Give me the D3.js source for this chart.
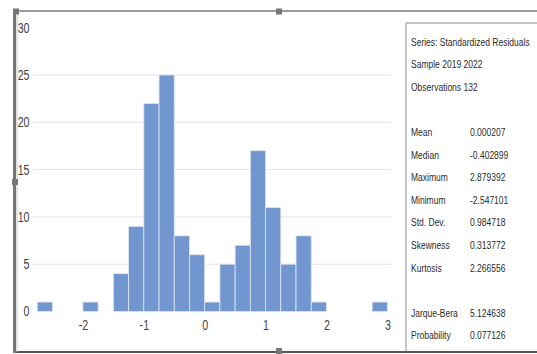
<!DOCTYPE html>
<html>
<head>
<meta charset="utf-8">
<script src="https://cdn.jsdelivr.net/npm/d3@7"></script>
<style>
  body { margin: 0; background: #fff; }
  svg { display: block; }
  text { font-family: "Liberation Sans", Arial, sans-serif; }
</style>
</head>
<body>
<div class="canvas"></div>
<script>
// histogram of standardized residuals, bins of 0.25
const binLow = [-2.75, -2.5, -2.25, -2.0, -1.75, -1.5, -1.25, -1.0, -0.75, -0.5, -0.25,
  0.0, 0.25, 0.5, 0.75, 1.0, 1.25, 1.5, 1.75, 2.0, 2.25, 2.5, 2.75];
const counts = [1, 0, 0, 1, 0, 4, 9, 22, 25, 8, 6, 1, 5, 7, 17, 11, 5, 8, 1, 0, 0, 0, 1];
const binWidth = 0.25;

const xTicks = [-2, -1, 0, 1, 2, 3];
const yTicks = [0, 5, 10, 15, 20, 25, 30];
const gridTicks = [5, 10, 15, 20, 25];

const statsHeader = ['Series: Standardized Residuals', 'Sample 2019 2022', 'Observations 132'];
const statNames = ['Mean', 'Median', 'Maximum', 'Minimum', 'Std. Dev.', 'Skewness', 'Kurtosis'];
const statValues = ['0.000207', '-0.402899', '2.879392', '-2.547101', '0.984718', '0.313772', '2.266556'];
const testNames = ['Jarque-Bera', 'Probability'];
const testValues = ['5.124638', '0.077126'];

const W = 537, H = 354;
const plot = { left: 33, right: 391, top: 27.7, bottom: 311.5 };
// no narrow font installed, so texts are squeezed sideways
const tickSqueeze = 0.76;
const statSqueeze = 0.74;

const svg = d3.select('.canvas').append('svg')
  .attr('width', W)
  .attr('height', H);

const x = d3.scaleLinear().domain([-2.82, 3.06]).range([plot.left, plot.right]);
const y = d3.scaleLinear().domain([0, 30]).range([plot.bottom, plot.top]);

// GRIDLINES
svg.append('g')
  .selectAll('line')
  .data(gridTicks)
  .join('line')
  .attr('x1', plot.left)
  .attr('x2', plot.right)
  .attr('y1', (d) => y(d))
  .attr('y2', (d) => y(d))
  .attr('stroke', '#e3e3e3')
  .attr('stroke-width', 1);

// BARS
const bins = binLow.map((lo, i) => ({ lo, hi: lo + binWidth, n: counts[i] }));

svg.append('g')
  .selectAll('rect')
  .data(bins.filter((d) => d.n > 0))
  .join('rect')
  .attr('x', (d) => x(d.lo))
  .attr('width', (d) => x(d.hi) - x(d.lo))
  .attr('y', (d) => y(d.n))
  .attr('height', (d) => y(0) - y(d.n))
  .attr('fill', '#7297d0')
  .attr('stroke', '#dfe6f1')
  .attr('stroke-width', 0.8);

// AXES (labels only)
const styleTicks = (g) => {
  g.select('.domain').remove();
  g.selectAll('text')
    .attr('fill', '#404040')
    .attr('transform', `scale(${tickSqueeze},1)`)
    .style('font-size', '14px')
    .style('font-family', '"Liberation Sans", Arial, sans-serif');
};

const yAxis = d3.axisLeft(y).tickValues(yTicks).tickSize(0).tickPadding(0);
svg.append('g')
  .attr('transform', 'translate(29.5,0)')
  .call(yAxis)
  .call(styleTicks);

const xAxis = d3.axisBottom(x).tickValues(xTicks).tickSize(0).tickPadding(0)
  .tickFormat((d) => String(d));
svg.append('g')
  .attr('transform', 'translate(0,320.5)')
  .call(xAxis)
  .call(styleTicks);

// STATS BOX
const box = { left: 406, top: 23, lineY0: 45.5, step: 22.6, labelX: 411, valueX: 470 };

svg.append('path')
  .attr('d', `M${W},${box.top}H${box.left}V${H - 2}`)
  .attr('fill', 'none')
  .attr('stroke', '#8c8c8c')
  .attr('stroke-width', 1);

const stats = svg.append('g')
  .attr('fill', '#2b2b2b')
  .style('font-size', '11.5px');

const addStat = (tx, ty, t) => {
  stats.append('text')
    .attr('transform', `translate(${tx},${ty}) scale(${statSqueeze},1)`)
    .text(t);
};

statsHeader.forEach((t, i) => addStat(box.labelX, box.lineY0 + i * box.step, t));

const rows = statNames.map((n, i) => ({ n, v: statValues[i], line: 4 + i }))
  .concat(testNames.map((n, i) => ({ n, v: testValues[i], line: 12 + i })));

rows.forEach((r) => {
  const yy = box.lineY0 + r.line * box.step;
  addStat(box.labelX, yy, r.n);
  addStat(box.valueX, yy, r.v);
});

// FRAME (selected chart object look)
svg.append('line')
  .attr('x1', 15).attr('x2', W)
  .attr('y1', 11).attr('y2', 11)
  .attr('stroke', '#7a7a7a').attr('stroke-width', 1.5);

svg.append('line')
  .attr('x1', 15).attr('x2', W)
  .attr('y1', 352).attr('y2', 352)
  .attr('stroke', '#555').attr('stroke-width', 2);

svg.append('line')
  .attr('x1', 14.5).attr('x2', 14.5)
  .attr('y1', 9).attr('y2', 353)
  .attr('stroke', '#777').attr('stroke-width', 3);

svg.append('line')
  .attr('x1', 17).attr('x2', 17)
  .attr('y1', 12).attr('y2', 352)
  .attr('stroke', '#c4c4c4').attr('stroke-width', 1);

const handles = [[16, 11.5], [279, 11.5], [279, 351], [15, 182]];
svg.append('g')
  .selectAll('rect')
  .data(handles)
  .join('rect')
  .attr('x', (d) => d[0] - 3)
  .attr('y', (d) => d[1] - 3)
  .attr('width', 6)
  .attr('height', 6)
  .attr('fill', '#777');
</script>
</body>
</html>
